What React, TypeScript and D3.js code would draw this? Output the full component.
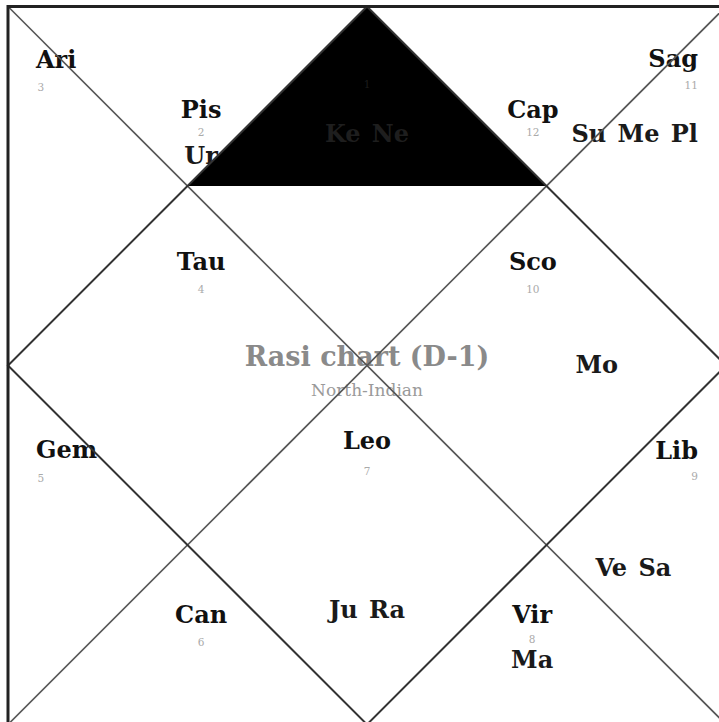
import React, { useEffect, useRef } from 'react';
import * as d3 from 'd3';

// Houses 1..12 (North-Indian layout), sign in each house, planets in each house
const houseNumbers = [1, 2, 3, 4, 5, 6, 7, 8, 9, 10, 11, 12];
const signs = ['Aqu', 'Pis', 'Ari', 'Tau', 'Gem', 'Can', 'Leo', 'Vir', 'Lib', 'Sco', 'Sag', 'Cap'];
const planets = [['Ke', 'Ne'], ['Ur'], [], [], [], [], ['Ju', 'Ra'], ['Ma'], ['Ve', 'Sa'], ['Mo'], ['Su', 'Me', 'Pl'], []];
const chartTitle = 'Rasi chart (D-1)';
const chartSubtitle = 'North-Indian';

// layout of each house in unit square coords: label anchor, label pos, number pos, planet pos
type Anchor = 'start' | 'middle' | 'end';
const houseLayout: { a: Anchor; lx: number; ly: number; ny: number; px: number; py: number; pa: Anchor }[] = [
  { a: 'middle', lx: 0.5, ly: 0.083, ny: 0.113, px: 0.5, py: 0.189, pa: 'middle' },
  { a: 'middle', lx: 0.269, ly: 0.155, ny: 0.181, px: 0.269, py: 0.219, pa: 'middle' },
  { a: 'start', lx: 0.039, ly: 0.085, ny: 0.118, px: 0.039, py: 0.2, pa: 'start' },
  { a: 'middle', lx: 0.269, ly: 0.367, ny: 0.399, px: 0.269, py: 0.44, pa: 'middle' },
  { a: 'start', lx: 0.039, ly: 0.629, ny: 0.662, px: 0.039, py: 0.72, pa: 'start' },
  { a: 'middle', lx: 0.269, ly: 0.859, ny: 0.89, px: 0.269, py: 0.93, pa: 'middle' },
  { a: 'middle', lx: 0.5, ly: 0.616, ny: 0.652, px: 0.5, py: 0.852, pa: 'middle' },
  { a: 'middle', lx: 0.73, ly: 0.859, ny: 0.887, px: 0.73, py: 0.922, pa: 'middle' },
  { a: 'end', lx: 0.961, ly: 0.63, ny: 0.66, px: 0.871, py: 0.793, pa: 'middle' },
  { a: 'middle', lx: 0.731, ly: 0.367, ny: 0.399, px: 0.82, py: 0.511, pa: 'middle' },
  { a: 'end', lx: 0.961, ly: 0.084, ny: 0.115, px: 0.961, py: 0.189, pa: 'end' },
  { a: 'middle', lx: 0.731, ly: 0.155, ny: 0.181, px: 0.731, py: 0.218, pa: 'middle' },
];

const W = 719;
const H = 722;
const FONT = '"DejaVu Serif", serif';

export default function App() {
  const svgRef = useRef<SVGSVGElement>(null);

  useEffect(() => {
    if (!svgRef.current) return;
    const svg = d3.select(svgRef.current);
    svg.selectAll('*').remove();

    const x = d3.scaleLinear().domain([0, 1]).range([8, 726]);
    const y = d3.scaleLinear().domain([0, 1]).range([6.5, 724.5]);
    const line = d3.line<[number, number]>().x(d => x(d[0])).y(d => y(d[1]));

    svg.append('rect').attr('width', W).attr('height', H).attr('fill', '#fff');

    // sign labels, numbers, planets (house 1 text goes on top of the fill later)
    const drawHouse = (i: number, darkMode: boolean) => {
      const h = houseLayout[i];
      const g = svg.append('g');
      if (!darkMode) {
        g.append('text')
          .attr('x', x(h.lx)).attr('y', y(h.ly))
          .attr('text-anchor', h.a)
          .attr('font-family', FONT).attr('font-weight', 'bold').attr('font-size', 24)
          .attr('fill', '#111')
          .text(signs[i]);
      }
      if (darkMode || i !== 0) {
        g.append('text')
          .attr('x', x(h.a === 'start' ? h.lx + 0.002 : h.lx)).attr('y', y(h.ny))
          .attr('text-anchor', h.a)
          .attr('font-family', FONT).attr('font-size', 10.5)
          .attr('fill', darkMode ? '#1c1c1c' : '#aaa')
          .text(houseNumbers[i]);
      }
      if ((darkMode || i !== 0) && planets[i].length) {
        g.append('text')
          .attr('x', x(h.px)).attr('y', y(h.py))
          .attr('text-anchor', h.pa)
          .attr('font-family', FONT).attr('font-weight', 'bold').attr('font-size', 24)
          .attr('word-spacing', 3)
          .attr('fill', darkMode ? '#1e1e1e' : '#1a1a1a')
          .text(planets[i].join(' '));
      }
    };

    // centre title
    svg.append('text')
      .attr('x', x(0.5)).attr('y', y(0.5))
      .attr('text-anchor', 'middle')
      .attr('font-family', FONT).attr('font-weight', 'bold').attr('font-size', 27)
      .attr('fill', '#8a8a8a')
      .text(chartTitle);
    svg.append('text')
      .attr('x', x(0.5)).attr('y', y(0.542))
      .attr('text-anchor', 'middle')
      .attr('font-family', FONT).attr('font-size', 17)
      .attr('fill', '#9a9a9a')
      .text(chartSubtitle);

    houseNumbers.forEach((_, i) => drawHouse(i, false));

    // filled (upper half of) house 1
    svg.append('path')
      .attr('d', line([[0.5, 0], [0.25, 0.25], [0.75, 0.25]]) + 'Z')
      .attr('fill', '#000');

    // diagonals
    const diags: [number, number][][] = [[[0, 0], [1, 1]], [[1, 0], [0, 1]]];
    diags.forEach(d => {
      svg.append('path').attr('d', line(d)).attr('stroke', '#555').attr('stroke-width', 1.6).attr('fill', 'none');
    });

    // inner diamond
    svg.append('path')
      .attr('d', line([[0.5, 0], [1, 0.5], [0.5, 1], [0, 0.5]]) + 'Z')
      .attr('stroke', '#333').attr('stroke-width', 2).attr('fill', 'none');

    // outer frame
    svg.append('rect')
      .attr('x', x(0)).attr('y', y(0))
      .attr('width', x(1) - x(0)).attr('height', y(1) - y(0))
      .attr('stroke', '#222').attr('stroke-width', 3).attr('fill', 'none');

    drawHouse(0, true);
  }, []);

  return (
    <svg
      ref={svgRef}
      width={W}
      height={H}
      style={{ position: 'absolute', left: 0, top: 0, display: 'block' }}
    />
  );
}
